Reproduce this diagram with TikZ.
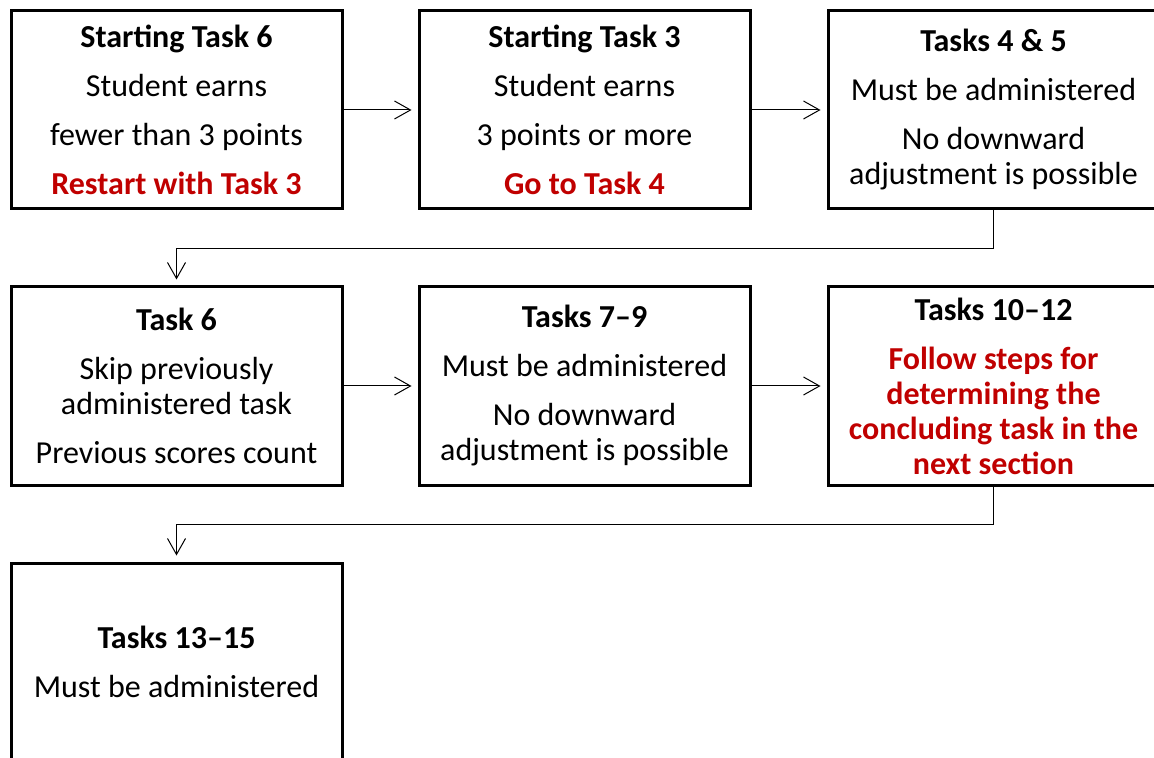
\documentclass[tikz,border=0pt]{standalone}
\usepackage{fontspec}
\setmainfont{Carlito}
\usetikzlibrary{arrows.meta}
\definecolor{stepred}{RGB}{192,0,0}
\newcommand{\redhd}[1]{\textcolor{stepred}{\textbf{#1}}}
\tikzset{
    taskbox/.style={draw, line width=1.5pt, minimum width=165.5pt, minimum height=99pt,
        align=center, inner sep=0pt, font=\fontsize{16}{17.5}\selectfont},
    flow/.style={line width=0.5pt, shorten >=3pt, -{Straight Barb[length=8pt, width=9pt]}}
}
\begin{document}
\begin{tikzpicture}[x=0.5pt, y=-0.5pt]
    \useasboundingbox (0,0) rectangle (1154,758);
    \clip (0,0) rectangle (1154,758);
    % First row
    \node[taskbox] (s6) at (176.5,110) {\textbf{Starting Task 6}\\[7pt] Student earns\\[7pt] fewer than 3 points\\[7pt] \redhd{Restart with Task 3}};
    \node[taskbox] (s3) at (584.5,110) {\textbf{Starting Task 3}\\[7pt] Student earns\\[7pt] 3 points or more\\[7pt] \redhd{Go to Task 4}};
    \node[taskbox] (t45) at (993.5,110) {\textbf{Tasks 4 \& 5}\\[7pt] Must be administered\\[7pt] No downward\\ adjustment is possible};
    % Second row
    \node[taskbox] (t6) at (176.5,386) {\textbf{Task 6}\\[7pt] Skip previously\\ administered task\\[7pt] Previous scores count};
    \node[taskbox] (t79) at (584.5,386) {\textbf{Tasks 7--9}\\[7pt] Must be administered\\[7pt] No downward\\ adjustment is possible};
    \node[taskbox] (t1012) at (993.5,386) {\textbf{Tasks 10--12}\\[7pt] \redhd{Follow steps for}\\ \redhd{determining the}\\ \redhd{concluding task in the}\\ \redhd{next section}};
    % Third row
    \node[taskbox] (t1315) at (176.5,662) {\textbf{Tasks 13--15}\\[7pt] Must be administered};
    % Connectors
    \draw[flow] (s6.east) -- (s3.west);
    \draw[flow] (s3.east) -- (t45.west);
    \draw[flow] (t45.south) -- ++(0,38) -| (t6.north);
    \draw[flow] (t6.east) -- (t79.west);
    \draw[flow] (t79.east) -- (t1012.west);
    \draw[flow] (t1012.south) -- ++(0,38) -| (t1315.north);
\end{tikzpicture}
\end{document}
